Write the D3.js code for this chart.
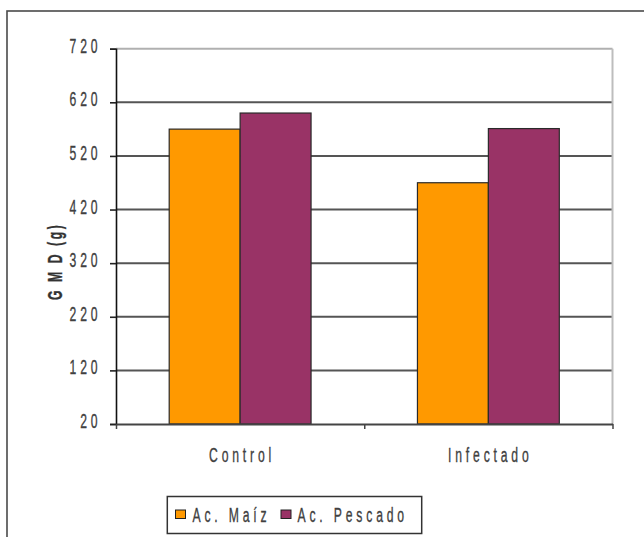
<!DOCTYPE html>
<html>
<head>
<meta charset="utf-8">
<script src="https://cdn.jsdelivr.net/npm/d3@7"></script>
<style>
  html, body { margin: 0; padding: 0; background: #fff; }
  svg { display: block; }
  text { font-family: "Liberation Sans", Arial, sans-serif; }
</style>
</head>
<body>
<script>
// Daily weight gain (GMD, g) by group and acid source
const categories = ["Control", "Infectado"];
const seriesNames = ["Ac. Maíz", "Ac. Pescado"];
const maizValues = [570, 470];
const pescadoValues = [600, 571];
const yTicks = [20, 120, 220, 320, 420, 520, 620, 720];
const colors = ["#FF9900", "#993366"];

const W = 644, H = 537;
const plot = { left: 116, right: 612.5, top: 48.7, bottom: 424 };

// condensed lettering: narrow glyphs with wide tracking
const FS = 21, SX = 0.58, LS = 6.6;

const svg = d3.select("body").append("svg")
  .attr("width", W).attr("height", H);

// outer frame
svg.append("rect")
  .attr("x", 7).attr("y", 11)
  .attr("width", W + 10).attr("height", H + 10)
  .attr("fill", "none").attr("stroke", "#4a4a4a").attr("stroke-width", 1.6);

const y = d3.scaleLinear().domain([20, 720]).range([plot.bottom, plot.top]);
const x0 = d3.scaleBand().domain(categories).range([plot.left, plot.right]).padding(0);
const x1 = d3.scaleBand().domain(seriesNames).range([0, x0.bandwidth()])
  .paddingInner(0).paddingOuter(0.75);

// horizontal gridlines
svg.append("g").selectAll("line")
  .data(yTicks.filter(v => v > 20))
  .join("line")
  .attr("x1", plot.left).attr("x2", plot.right)
  .attr("y1", d => y(d)).attr("y2", d => y(d))
  .attr("stroke", d => d === 720 ? "#b0b0b0" : "#555")
  .attr("stroke-width", 2);

// right edge of plot area
svg.append("line")
  .attr("x1", plot.right).attr("x2", plot.right)
  .attr("y1", plot.top).attr("y2", plot.bottom)
  .attr("stroke", "#bdbdbd").attr("stroke-width", 2);

// bars
const data = categories.map((c, i) => ({ cat: c, vals: [maizValues[i], pescadoValues[i]] }));
svg.append("g").selectAll("g")
  .data(data)
  .join("g")
  .attr("transform", d => `translate(${x0(d.cat)},0)`)
  .selectAll("rect")
  .data(d => d.vals.map((v, j) => ({ s: seriesNames[j], v, j })))
  .join("rect")
  .attr("x", d => x1(d.s))
  .attr("y", d => y(d.v))
  .attr("width", x1.bandwidth())
  .attr("height", d => y(20) - y(d.v))
  .attr("fill", d => colors[d.j])
  .attr("stroke", "#2a2a2a").attr("stroke-width", 1.2);

// y axis
const yAxis = d3.axisLeft(y).tickValues(yTicks).tickSize(6).tickFormat("");
const gy = svg.append("g").attr("transform", `translate(${plot.left},0)`).call(yAxis);
gy.select(".domain").attr("stroke", "#111").attr("stroke-width", 1.6);
gy.selectAll(".tick line").attr("stroke", "#222").attr("stroke-width", 1.6);

// x axis
const xAxis = d3.axisBottom(d3.scaleLinear().domain([0, 2]).range([plot.left, plot.right]))
  .tickValues([0, 1, 2]).tickSize(5).tickSizeOuter(0).tickFormat("");
const gx = svg.append("g").attr("transform", `translate(0,${plot.bottom})`).call(xAxis);
gx.select(".domain").attr("stroke", "#444").attr("stroke-width", 2);
gx.selectAll(".tick line").attr("stroke", "#444").attr("stroke-width", 1.5);

function label(g, txt, x, yPos, anchor, opts = {}) {
  const ls = opts.ls ?? LS;
  let shift = 0;
  if (anchor === "end") shift = ls * SX;
  else if (anchor === "middle") shift = ls * SX / 2;
  const t = g.append("text")
    .attr("text-anchor", anchor)
    .attr("font-size", opts.fs ?? FS)
    .attr("font-weight", opts.bold ? "bold" : "normal")
    .attr("letter-spacing", ls)
    .attr("fill", opts.fill ?? "#404040")
    .attr("stroke", opts.fill ?? "#404040")
    .attr("stroke-width", 0.35)
    .text(txt);
  if (opts.rotate) {
    t.attr("transform", `translate(${x},${yPos + shift}) rotate(-90) scale(${SX},1)`);
  } else {
    t.attr("transform", `translate(${x + shift},${yPos}) scale(${SX},1)`);
  }
  return t;
}

// tick labels
const tl = svg.append("g");
yTicks.forEach(v => label(tl, String(v), 97.5, y(v) + 4, "end"));

// category labels
categories.forEach(c => label(tl, c, x0(c) + x0.bandwidth() / 2, 462, "middle"));

// y axis title
label(tl, "G M D (g)", 61.5, 260, "middle", { rotate: true, bold: true, ls: 4.5, fill: "#333" });

// legend
const lg = svg.append("g");
lg.append("rect")
  .attr("x", 167.3).attr("y", 496.5)
  .attr("width", 254.4).attr("height", 37)
  .attr("fill", "#fff").attr("stroke", "#333").attr("stroke-width", 1.5);
const legX = [175.5, 281];
const legTextX = [192.5, 297.5];
seriesNames.forEach((s, i) => {
  lg.append("rect")
    .attr("x", legX[i]).attr("y", 510)
    .attr("width", 10).attr("height", 8.5)
    .attr("fill", colors[i]).attr("stroke", "#222").attr("stroke-width", 1);
  label(lg, s, legTextX[i], 521.5, "start");
});
</script>
</body>
</html>
